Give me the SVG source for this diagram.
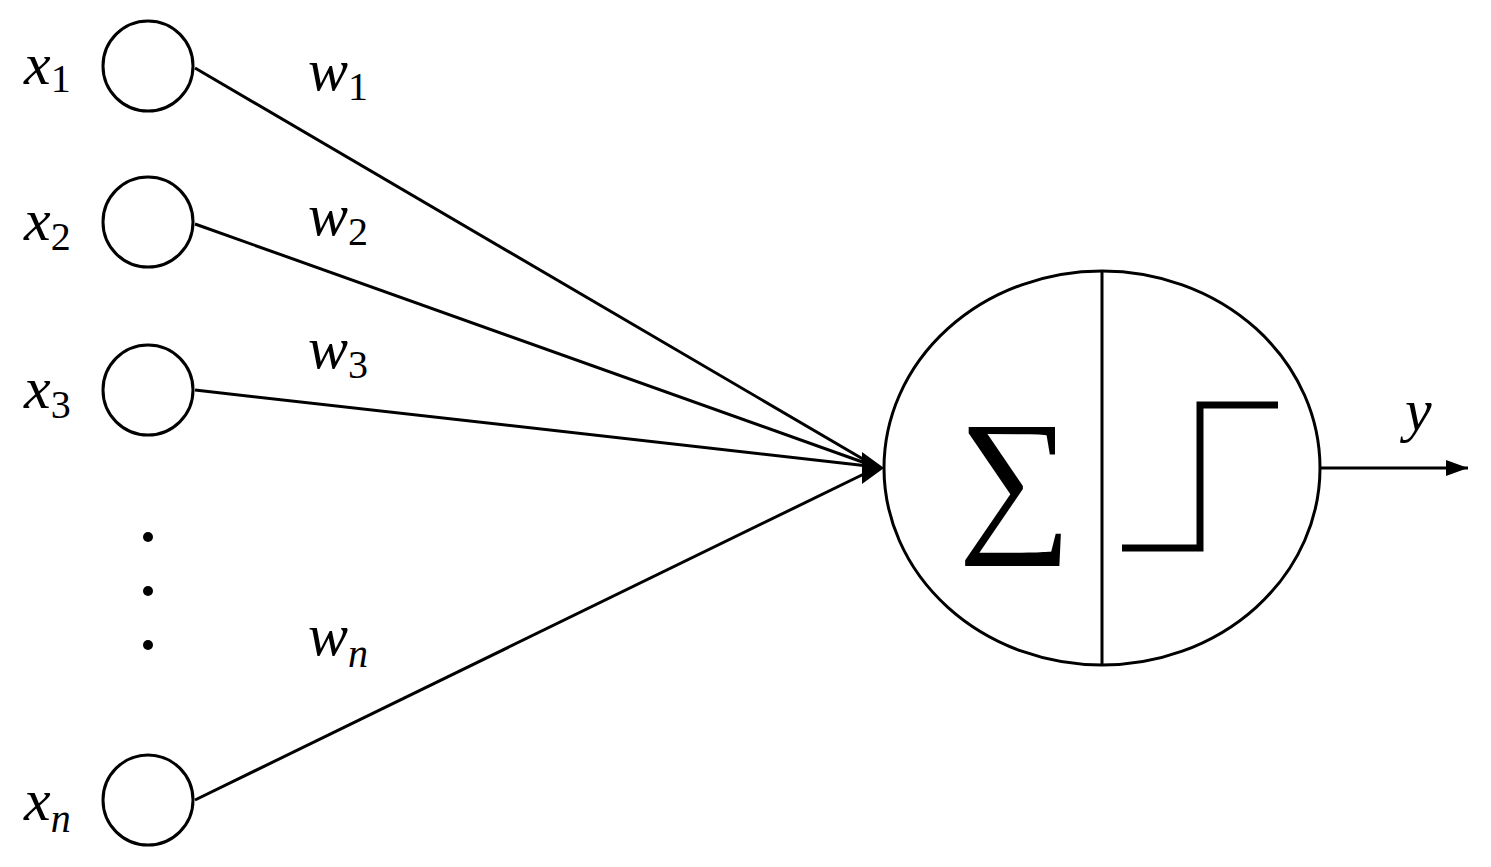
<svg xmlns="http://www.w3.org/2000/svg" width="1491" height="867" viewBox="0 0 1491 867">
<style>
.n{fill:#fff;stroke:#000;stroke-width:3}
.c{stroke:#000;stroke-width:3;fill:none}
.t{font-family:"Liberation Serif",serif;font-style:italic;font-size:60px;fill:#000}
.s{font-size:40px;font-style:normal}
.si{font-size:40px}
</style>
<defs><marker id="b" markerWidth="22" markerHeight="16" refX="22" refY="8" orient="auto" markerUnits="userSpaceOnUse"><path d="M0,0 L22,8 L0,16z"/></marker></defs>
<rect width="1491" height="867" fill="#fff"/>
<g id="connectors">
<line class="c" x1="195" y1="68" x2="868" y2="462"/>
<line class="c" x1="195" y1="224" x2="868" y2="464"/>
<line class="c" x1="195" y1="390" x2="868" y2="466"/>
<line class="c" x1="195" y1="800" x2="868" y2="472"/>
<path d="M862,452 L884,468 L862,484z"/>
<line class="c" x1="1320" y1="468" x2="1468" y2="468" marker-end="url(#b)"/>
</g>
<g id="x1"><ellipse class="n" cx="148" cy="66" rx="45" ry="45"/><text class="t" x="24" y="84">x<tspan class="s" dy="8">1</tspan></text></g>
<g id="x2"><ellipse class="n" cx="148" cy="222" rx="45" ry="45"/><text class="t" x="24" y="240">x<tspan class="s" dy="10">2</tspan></text></g>
<g id="x3"><ellipse class="n" cx="148" cy="390" rx="45" ry="45"/><text class="t" x="24" y="408">x<tspan class="s" dy="10">3</tspan></text></g>
<g id="xn"><ellipse class="n" cx="148" cy="800" rx="45" ry="45"/><text class="t" x="24" y="820">x<tspan class="si" dy="12">n</tspan></text></g>
<g id="dots"><circle cx="148" cy="537" r="5"/><circle cx="148" cy="591" r="5"/><circle cx="148" cy="645" r="5"/></g>
<g id="weights">
<text class="t" x="308" y="90">w<tspan class="s" dy="10">1</tspan></text>
<text class="t" x="308" y="235">w<tspan class="s" dy="10">2</tspan></text>
<text class="t" x="308" y="368">w<tspan class="s" dy="10">3</tspan></text>
<text class="t" x="308" y="655">w<tspan class="si" dy="12">n</tspan></text>
</g>
<g id="neuron">
<ellipse class="n" cx="1102" cy="468" rx="218" ry="197"/>
<line class="c" x1="1102" y1="271" x2="1102" y2="665"/>
<text x="1015" y="532" text-anchor="middle" font-family="Liberation Serif,serif" font-size="160">∑</text>
<path d="M1122,548 H1200 V405 H1278" fill="none" stroke="#000" stroke-width="7"/>
</g>
<text class="t" x="1405" y="430">y</text>
</svg>
